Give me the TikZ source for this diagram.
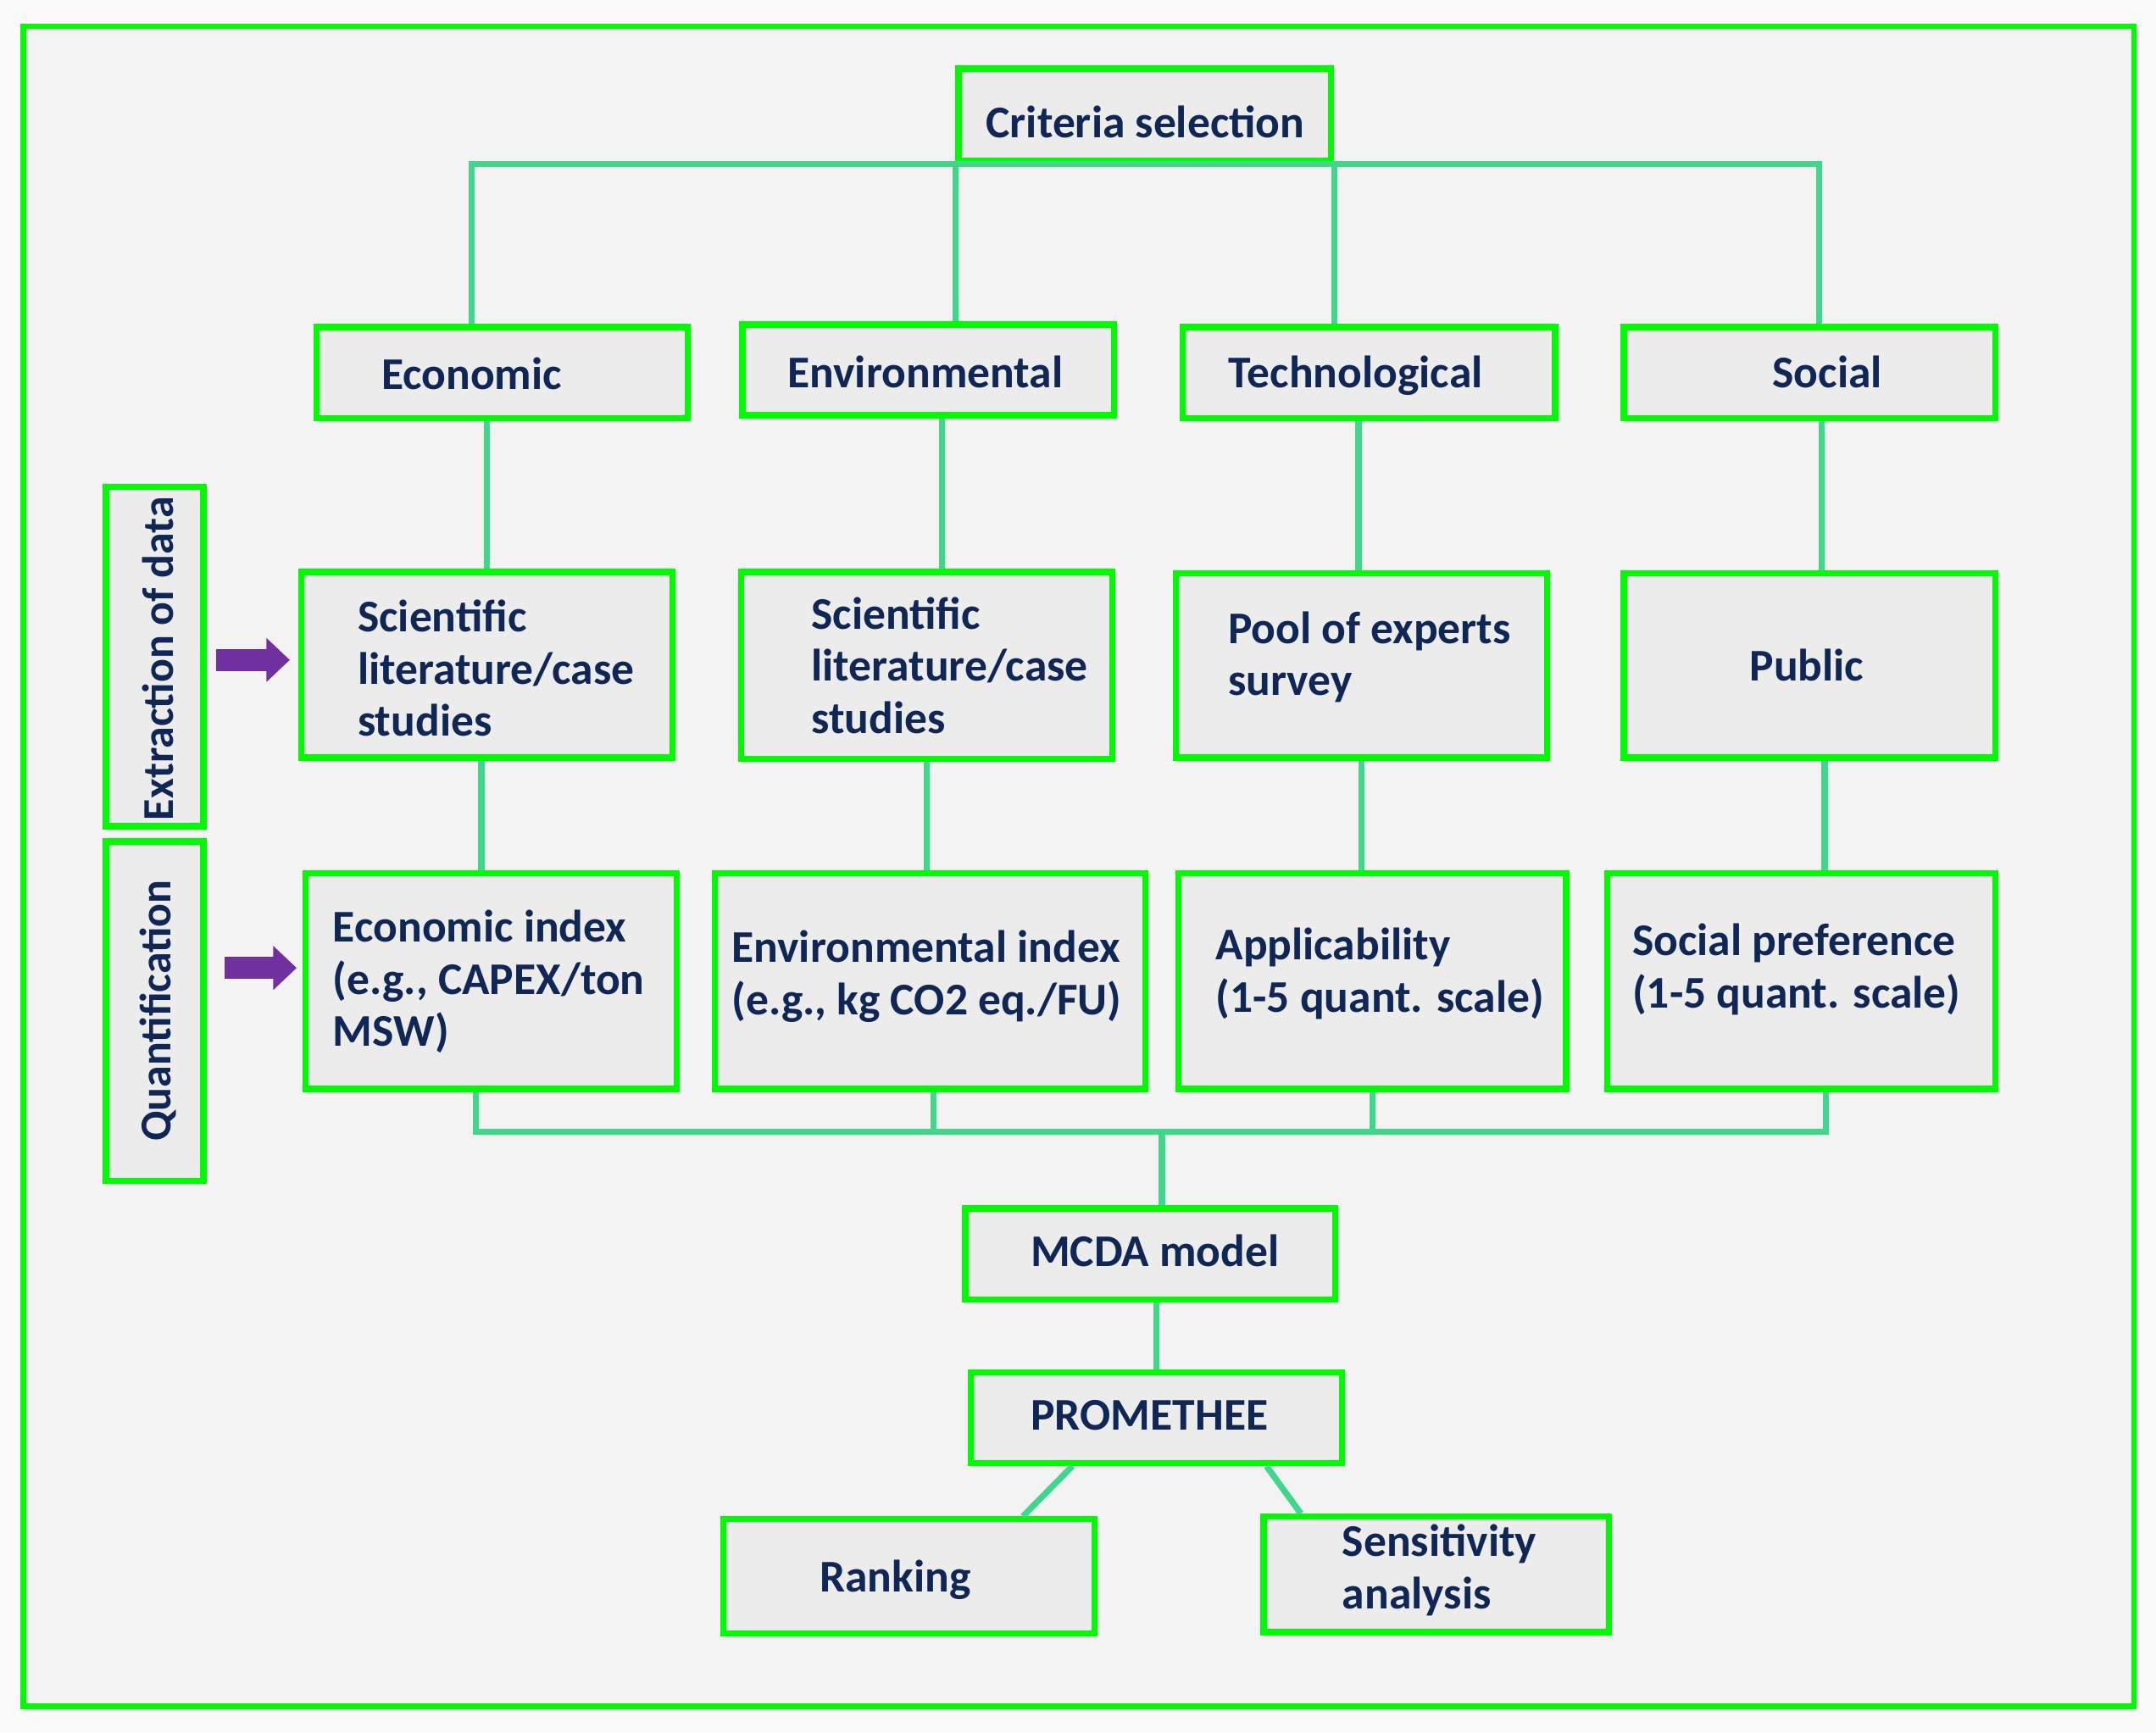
\documentclass[tikz,border=0pt]{standalone}
\usepackage{fontspec}
\setmainfont{Carlito}
\usetikzlibrary{fit,arrows.meta}
\definecolor{boxgreen}{RGB}{0,250,0}
\definecolor{linegreen}{RGB}{64,214,140}
\definecolor{navy}{RGB}{16,38,84}
\definecolor{arrowpurple}{RGB}{112,48,160}
\definecolor{bgin}{RGB}{243,243,243}
\definecolor{boxfill}{RGB}{236,236,236}
\begin{document}
\begin{tikzpicture}[x=1pt,y=-1pt,
  box/.style={draw=boxgreen, line width=4.5pt, fill=boxfill, inner sep=0pt},
  lbl/.style={text=navy, font=\fontsize{33}{38}\selectfont\bfseries, inner sep=0pt, align=left},
  one/.style={lbl, anchor=base},
  vlbl/.style={lbl, font=\fontsize{32}{38}\selectfont\bfseries, rotate=90},
  conn/.style={draw=linegreen, line width=4.5pt},
  parrow/.style={draw=arrowpurple, line width=16pt, -{Triangle[length=17pt,width=31pt]}},
  ]
% background and frame
\fill[white!98!black] (0,0) rectangle (1568,1260);
\useasboundingbox (0,0) rectangle (1568,1260);
\draw[draw=boxgreen, line width=4pt, fill=bgin] (17,19) rectangle (1552,1241);

% boxes
\node[box, fit={(697,50) (968,117)}] (crit) {};
\node[box, fit={(230,238) (500,304)}] (econ) {};
\node[box, fit={(540,236) (810,302)}] (env) {};
\node[box, fit={(860,238) (1131,304)}] (tech) {};
\node[box, fit={(1181,238) (1451,304)}] (soc) {};
\node[box, fit={(77,354) (148,601)}] (extr) {};
\node[box, fit={(77,612) (148,859)}] (quant) {};
\node[box, fit={(219,416) (489,551)}] (sci1) {};
\node[box, fit={(539,416) (809,552)}] (sci2) {};
\node[box, fit={(855,417) (1125,551)}] (pool) {};
\node[box, fit={(1181,417) (1451,551)}] (pub) {};
\node[box, fit={(222,635) (492,792)}] (idx1) {};
\node[box, fit={(520,635) (833,792)}] (idx2) {};
\node[box, fit={(857,635) (1139,792)}] (idx3) {};
\node[box, fit={(1169,635) (1451,792)}] (idx4) {};
\node[box, fit={(702,879) (971,945)}] (mcda) {};
\node[box, fit={(706,998) (976,1064)}] (prom) {};
\node[box, fit={(526,1105) (796,1188)}] (rank) {};
\node[box, fit={(919,1103) (1170,1187)}] (sens) {};

% texts
\node[one] (critT) at (833,100) {Criteria selection};
\node[one] (econT) at (343,283) {Economic};
\node[one] (envT) at (673,282) {Environmental};
\node[one] (techT) at (986,282) {Technological};
\node[one] (socT) at (1329,282) {Social};
\node[vlbl] (extrT) at (115,479) {Extraction of data};
\node[vlbl] (quantT) at (115,735) {Quantification};
\node[lbl, anchor=west] (sci1T) at (260,486) {Scientific\\literature/case\\studies};
\node[lbl, anchor=west] (sci2T) at (590,484) {Scientific\\literature/case\\studies};
\node[lbl, anchor=west] (poolT) at (893,478) {Pool of experts\\survey};
\node[one] (pubT) at (1314,495) {Public};
\node[lbl, anchor=west] (idx1T) at (242,714) {Economic index\\(e.g., CAPEX/ton\\MSW)};
\node[lbl, anchor=west] (idx2T) at (532,710) {Environmental index\\(e.g., kg CO2 eq./FU)};
\node[lbl, anchor=west] (idx3T) at (884,708) {Applicability\\(1-5 quant. scale)};
\node[lbl, anchor=west] (idx4T) at (1187,705) {Social preference\\(1-5 quant. scale)};
\node[one] (mcdaT) at (840,921) {MCDA model};
\node[one] (promT) at (836,1040) {PROMETHEE};
\node[one] (rankT) at (651,1158) {Ranking};
\node[lbl, anchor=west] (sensT) at (976,1142) {Sensitivity\\analysis};

% connectors: top
\coordinate (busL) at (343,117);
\coordinate (busR) at (1323,117);
\draw[conn] (econ.north -| busL) |- (crit.south);
\draw[conn] (soc.north -| busR) |- (crit.south);
\draw[conn] (crit.south west) -- (crit.south west |- env.north);
\draw[conn] (crit.south east) -- (crit.south east |- tech.north);

% row 1 -> row 2
\draw[conn] (sci1.north) -- (sci1.north |- econ.south);
\draw[conn] ([xshift=11pt]sci2.north) -- ([xshift=11pt]sci2.north |- env.south);
\draw[conn] ([xshift=-2pt]pool.north) -- ([xshift=-2pt]pool.north |- tech.south);
\draw[conn] ([xshift=9pt]pub.north) -- ([xshift=9pt]pub.north |- soc.south);

% row 2 -> row 3
\draw[conn] ([xshift=-4pt]sci1.south) -- ([xshift=-4pt]sci1.south |- idx1.north);
\draw[conn] (sci2.south) -- (sci2.south |- idx2.north);
\draw[conn] (pool.south) -- (pool.south |- idx3.north);
\draw[conn] ([xshift=11pt]pub.south) -- ([xshift=11pt]pub.south |- idx4.north);

% row 3 -> bus -> MCDA
\coordinate (busB) at (845,823);
\draw[conn] ([xshift=-11pt]idx1.south) |- (busB);
\draw[conn] ([xshift=18pt]idx4.south) |- (busB);
\draw[conn] ([xshift=2.5pt]idx2.south) -- ([xshift=2.5pt]idx2.south |- busB);
\draw[conn] (idx3.south) -- (idx3.south |- busB);
\draw[conn] (busB) -- (busB |- mcda.north);

% MCDA -> PROMETHEE -> outputs
\draw[conn] (prom.north) -- (prom.north |- mcda.south);
\draw[conn] ([xshift=-61pt]prom.south) -- ([xshift=83pt]rank.north);
\draw[conn] ([xshift=80pt]prom.south) -- ([xshift=-98.5pt]sens.north);

% purple arrows
\coordinate (a1) at (0,480);
\coordinate (a2) at (0,704);
\draw[parrow, shorten <=7pt, shorten >=6pt] (extr.east |- a1) -- (sci1.west |- a1);
\draw[parrow, shorten <=13pt, shorten >=4pt] (quant.east |- a2) -- (idx1.west |- a2);
\end{tikzpicture}
\end{document}
